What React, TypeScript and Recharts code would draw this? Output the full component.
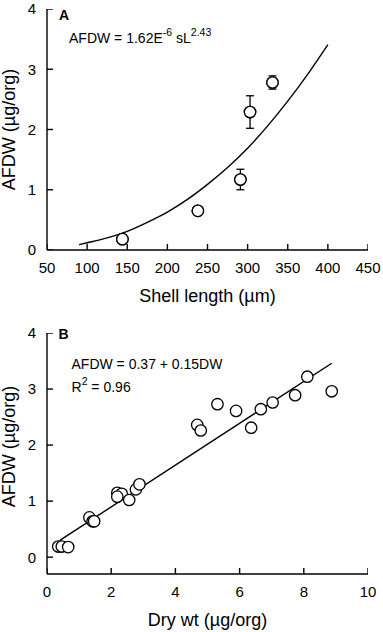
import React from 'react';
import {
    ComposedChart,
    XAxis,
    YAxis,
    Scatter,
    Line,
    ErrorBar,
    Label,
} from 'recharts';

// Panel A: AFDW vs shell length (means with error bars)
const shellLength = [144, 238, 291, 303, 331];
const shellAfdw = [0.18, 0.65, 1.17, 2.29, 2.78];
const shellErr = [0, 0, 0.17, 0.27, 0.11];

// fitted power curve
const fitShell = [90, 100, 125, 150, 175, 200, 225, 250, 275, 300, 325, 350, 375, 400];
const fitShellAfdw = [0.09, 0.12, 0.2, 0.31, 0.46, 0.63, 0.84, 1.09, 1.37, 1.69, 2.06, 2.47, 2.92, 3.41];

// Panel B: AFDW vs dry weight
const dryWt = [0.35, 0.46, 0.66, 1.32, 1.42, 1.47, 2.19, 2.33, 2.19, 2.56, 2.77, 2.88, 4.68, 4.79, 5.31, 5.89, 6.36, 6.66, 7.03, 7.73, 8.11, 8.87];
const dryAfdw = [0.19, 0.19, 0.18, 0.71, 0.64, 0.64, 1.15, 1.13, 1.08, 1.02, 1.21, 1.3, 2.36, 2.26, 2.73, 2.61, 2.31, 2.64, 2.76, 2.89, 3.22, 2.96];

// regression line endpoints
const fitDry = [0.4, 8.87];
const fitDryAfdw = [0.3, 3.46];

const shellTicks = [50, 100, 150, 200, 250, 300, 350, 400, 450];
const dryTicks = [0, 2, 4, 6, 8, 10];
const afdwTicks = [0, 1, 2, 3, 4];

const FONT = "'Liberation Sans', Arial, sans-serif";
const tickStyle = { fontSize: 15, fill: '#000', fontFamily: FONT };
const axisStroke = { stroke: '#000', strokeWidth: 1.4 };
const TICK_PX = 6;

const zip = (xs: number[], ys: number[], errs?: number[]) =>
    xs.map((x, i) => ({ x, y: ys[i], err: errs ? errs[i] : 0 }));

const Circle = (p: any) => (
    <circle cx={p.cx} cy={p.cy} r={5.7} fill="#fff" stroke="#000" strokeWidth={1.3} />
);

// inward tick marks: one short stroke per tick, anchored on the axis
const UpTick = (p: any) => (
    <line x1={p.cx} x2={p.cx} y1={p.cy} y2={p.cy - TICK_PX} stroke="#000" strokeWidth={1.4} />
);
const RightTick = (p: any) => (
    <line x1={p.cx} x2={p.cx + TICK_PX} y1={p.cy} y2={p.cy} stroke="#000" strokeWidth={1.4} />
);

const xTickPts = (ticks: number[], yMin: number) => ticks.map((t) => ({ x: t, y: yMin }));
const yTickPts = (ticks: number[], xMin: number) => ticks.map((t) => ({ x: xMin, y: t }));

const xTitle = (text: string) => ({ viewBox }: any) => (
    <text x={viewBox.x + viewBox.width / 2} y={viewBox.y + 52} textAnchor="middle" fontSize={18} fontFamily={FONT} fill="#000">
        {text}
    </text>
);

const yTitle = (shift: number) => ({ viewBox }: any) => {
    const cx = 15;
    const cy = viewBox.y + viewBox.height / 2 + shift;
    return (
        <text x={cx} y={cy} transform={`rotate(-90 ${cx} ${cy})`} textAnchor="middle" fontSize={18} fontFamily={FONT} fill="#000">
            AFDW (µg/org)
        </text>
    );
};

// panel letter + equation, placed relative to the top-left of the plot
const notesA = ({ viewBox }: any) => {
    const x = viewBox.x + viewBox.width;
    const y = viewBox.y;
    return (
        <g fontFamily={FONT} fill="#000">
            <text x={x + 12} y={y + 10.5} fontSize={14} fontWeight="bold">A</text>
            <text x={x + 22} y={y + 33.7} fontSize={14}>
                AFDW = 1.62E<tspan fontSize={10.5} dy={-7}>-6</tspan>
                <tspan dy={7}> sL</tspan>
                <tspan fontSize={10.5} dy={-7}>2.43</tspan>
            </text>
        </g>
    );
};

const notesB = ({ viewBox }: any) => {
    const x = viewBox.x + viewBox.width;
    const y = viewBox.y;
    return (
        <g fontFamily={FONT} fill="#000">
            <text x={x + 11.5} y={y + 6.3} fontSize={14} fontWeight="bold">B</text>
            <text x={x + 24.5} y={y + 36.3} fontSize={14}>AFDW = 0.37 + 0.15DW</text>
            <text x={x + 24.5} y={y + 58.7} fontSize={14}>
                R<tspan fontSize={10.5} dy={-7}>2</tspan>
                <tspan dy={7}> = 0.96</tspan>
            </text>
        </g>
    );
};

export default function App() {
    const panelA = zip(shellLength, shellAfdw, shellErr);
    const curveA = zip(fitShell, fitShellAfdw);
    const panelB = zip(dryWt, dryAfdw);
    const lineB = zip(fitDry, fitDryAfdw);

    const domA = { x: [50, 450], y: [0, 4] };
    const domB = { x: [0, 10], y: [-0.3, 4] };

    return (
        <div style={{ position: 'absolute', left: 0, top: 0, width: 383, height: 632 }}>
            <div style={{ position: 'absolute', left: 0, top: 0 }}>
                <ComposedChart width={383} height={316} margin={{ top: 9, right: 15, bottom: 0, left: 0 }}>
                    <XAxis
                        type="number"
                        dataKey="x"
                        domain={domA.x}
                        ticks={shellTicks}
                        allowDataOverflow
                        height={66}
                        tickSize={0}
                        tickMargin={12}
                        tick={tickStyle}
                        tickLine={false}
                        axisLine={axisStroke}
                    >
                        <Label content={xTitle('Shell length (µm)')} />
                    </XAxis>
                    <YAxis
                        type="number"
                        dataKey="y"
                        domain={domA.y}
                        ticks={afdwTicks}
                        allowDataOverflow
                        width={47}
                        tickSize={0}
                        tickMargin={11}
                        tick={tickStyle}
                        tickLine={false}
                        axisLine={axisStroke}
                    >
                        <Label content={yTitle(0)} />
                        <Label content={notesA} />
                    </YAxis>
                    <Scatter data={xTickPts(shellTicks, domA.y[0])} dataKey="y" shape={UpTick} isAnimationActive={false} />
                    <Scatter data={yTickPts(afdwTicks, domA.x[0])} dataKey="y" shape={RightTick} isAnimationActive={false} />
                    <Line data={curveA} dataKey="y" type="monotone" stroke="#000" strokeWidth={1.4} dot={false} isAnimationActive={false} />
                    <Scatter data={panelA} dataKey="y" shape={Circle} isAnimationActive={false}>
                        <ErrorBar dataKey="err" direction="y" width={4} stroke="#000" strokeWidth={1.3} />
                    </Scatter>
                    {/* same points again so the circles sit over the error bars */}
                    <Scatter data={panelA} dataKey="y" shape={Circle} isAnimationActive={false} />
                </ComposedChart>
            </div>
            <div style={{ position: 'absolute', left: 0, top: 316 }}>
                <ComposedChart width={383} height={316} margin={{ top: 17, right: 15, bottom: 0, left: 0 }}>
                    <XAxis
                        type="number"
                        dataKey="x"
                        domain={domB.x}
                        ticks={dryTicks}
                        allowDataOverflow
                        height={58}
                        tickSize={0}
                        tickMargin={12}
                        tick={tickStyle}
                        tickLine={false}
                        axisLine={axisStroke}
                    >
                        <Label content={xTitle('Dry wt (µg/org)')} />
                    </XAxis>
                    <YAxis
                        type="number"
                        dataKey="y"
                        domain={domB.y}
                        ticks={afdwTicks}
                        allowDataOverflow
                        width={47}
                        tickSize={0}
                        tickMargin={11}
                        tick={tickStyle}
                        tickLine={false}
                        axisLine={axisStroke}
                    >
                        <Label content={yTitle(-7)} />
                        <Label content={notesB} />
                    </YAxis>
                    <Scatter data={xTickPts(dryTicks, domB.y[0])} dataKey="y" shape={UpTick} isAnimationActive={false} />
                    <Scatter data={yTickPts(afdwTicks, domB.x[0])} dataKey="y" shape={RightTick} isAnimationActive={false} />
                    <Line data={lineB} dataKey="y" type="linear" stroke="#000" strokeWidth={1.4} dot={false} isAnimationActive={false} />
                    <Scatter data={panelB} dataKey="y" shape={Circle} isAnimationActive={false} />
                </ComposedChart>
            </div>
        </div>
    );
}
